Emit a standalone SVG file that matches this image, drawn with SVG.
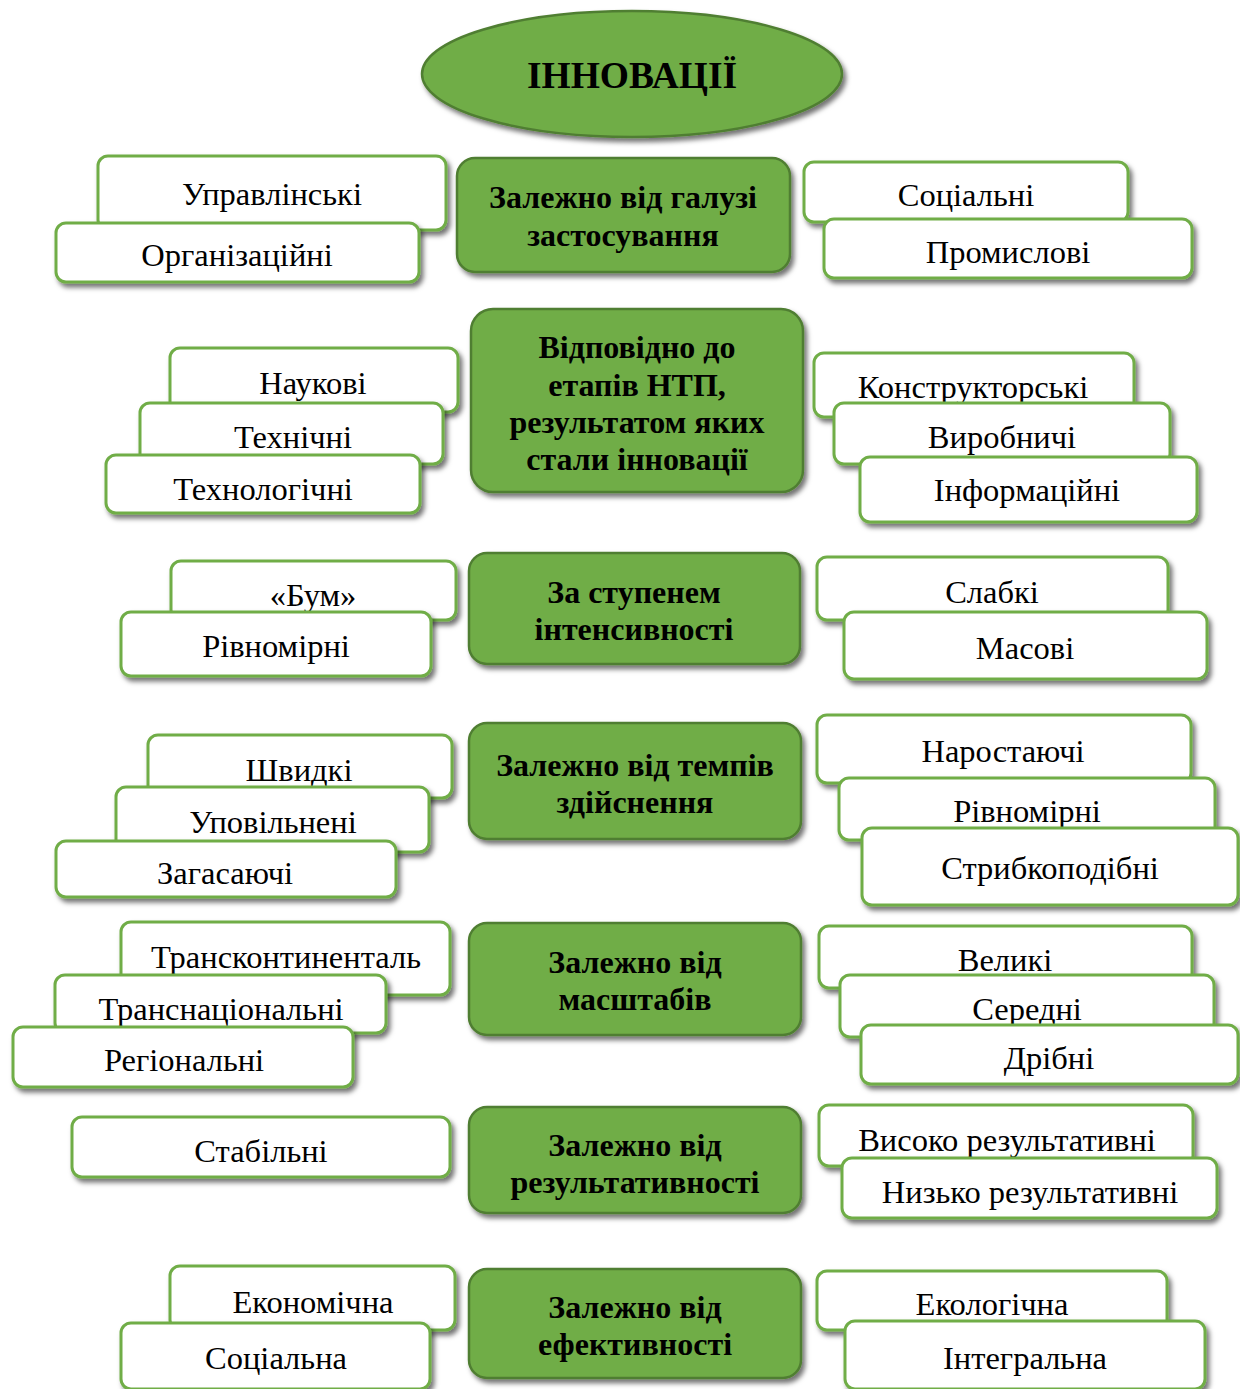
<svg xmlns="http://www.w3.org/2000/svg" width="1240" height="1389" viewBox="0 0 1240 1389">
<defs>
<filter id="sh" x="-10%" y="-20%" width="125%" height="150%">
<feDropShadow dx="3" dy="4" stdDeviation="2.5" flood-color="#000" flood-opacity="0.55"/>
</filter>
<style>
.w{fill:#fff;stroke:#70AD47;stroke-width:3;filter:url(#sh)}
.g{fill:#70AD47;stroke:#507E32;stroke-width:2.5;filter:url(#sh)}
.t{font-family:"Liberation Serif","Times New Roman",serif;font-size:32.5px;fill:#000;text-anchor:middle}
.b{font-family:"Liberation Serif","Times New Roman",serif;font-size:32px;font-weight:bold;fill:#000;text-anchor:middle}
.h{font-family:"Liberation Serif","Times New Roman",serif;font-size:37.5px;font-weight:bold;fill:#000;text-anchor:middle}
</style>
</defs>
<rect width="1240" height="1389" fill="#fff"/>

<g id="root"><ellipse class="g" cx="632" cy="74" rx="210" ry="63"/><text class="h" x="632" y="88">ІННОВАЦІЇ</text></g>

<!-- Row 1 -->
<g id="c1"><rect class="g" x="457" y="158" width="333" height="114" rx="18"/><text class="b" x="623" y="208">Залежно від галузі</text><text class="b" x="623" y="246">застосування</text></g>
<g id="l1a"><rect class="w" x="98" y="156" width="348" height="74" rx="10"/><text class="t" x="272" y="205">Управлінські</text></g>
<g id="l1b"><rect class="w" x="56" y="223" width="363" height="59" rx="10"/><text class="t" x="237" y="266">Організаційні</text></g>
<g id="r1a"><rect class="w" x="804" y="162" width="324" height="60" rx="10"/><text class="t" x="966" y="206">Соціальні</text></g>
<g id="r1b"><rect class="w" x="824" y="219" width="368" height="59" rx="10"/><text class="t" x="1008" y="263">Промислові</text></g>

<!-- Row 2 -->
<g id="c2"><rect class="g" x="471" y="309" width="332" height="183" rx="22"/><text class="b" x="637" y="358">Відповідно до</text><text class="b" x="637" y="396">етапів НТП,</text><text class="b" x="637" y="433">результатом яких</text><text class="b" x="637" y="470">стали інновації</text></g>
<g id="l2a"><rect class="w" x="170" y="348" width="288" height="64" rx="10"/><text class="t" x="313" y="394">Наукові</text></g>
<g id="l2b"><rect class="w" x="140" y="403" width="303" height="61" rx="10"/><text class="t" x="293" y="448">Технічні</text></g>
<g id="l2c"><rect class="w" x="106" y="455" width="314" height="58" rx="10"/><text class="t" x="263" y="500">Технологічні</text></g>
<g id="r2a"><rect class="w" x="814" y="353" width="320" height="64" rx="10"/><text class="t" x="973" y="398">Конструкторські</text></g>
<g id="r2b"><rect class="w" x="834" y="403" width="336" height="61" rx="10"/><text class="t" x="1002" y="448">Виробничі</text></g>
<g id="r2c"><rect class="w" x="860" y="457" width="337" height="65" rx="10"/><text class="t" x="1027" y="501">Інформаційні</text></g>

<!-- Row 3 -->
<g id="c3"><rect class="g" x="469" y="553" width="331" height="111" rx="18"/><text class="b" x="634" y="603">За ступенем</text><text class="b" x="634" y="640">інтенсивності</text></g>
<g id="l3a"><rect class="w" x="171" y="561" width="285" height="59" rx="10"/><text class="t" x="313" y="606">«Бум»</text></g>
<g id="l3b"><rect class="w" x="121" y="612" width="310" height="64" rx="10"/><text class="t" x="276" y="657">Рівномірні</text></g>
<g id="r3a"><rect class="w" x="817" y="557" width="351" height="63" rx="10"/><text class="t" x="992" y="603">Слабкі</text></g>
<g id="r3b"><rect class="w" x="844" y="612" width="363" height="67" rx="10"/><text class="t" x="1025" y="659">Масові</text></g>

<!-- Row 4 -->
<g id="c4"><rect class="g" x="469" y="723" width="332" height="116" rx="18"/><text class="b" x="635" y="776">Залежно від темпів</text><text class="b" x="635" y="813">здійснення</text></g>
<g id="l4a"><rect class="w" x="148" y="735" width="304" height="63" rx="10"/><text class="t" x="299" y="781">Швидкі</text></g>
<g id="l4b"><rect class="w" x="116" y="787" width="313" height="65" rx="10"/><text class="t" x="273" y="833">Уповільнені</text></g>
<g id="l4c"><rect class="w" x="56" y="841" width="340" height="56" rx="10"/><text class="t" x="225" y="884">Загасаючі</text></g>
<g id="r4a"><rect class="w" x="817" y="715" width="374" height="68" rx="10"/><text class="t" x="1003" y="762">Наростаючі</text></g>
<g id="r4b"><rect class="w" x="839" y="778" width="376" height="62" rx="10"/><text class="t" x="1027" y="822">Рівномірні</text></g>
<g id="r4c"><rect class="w" x="862" y="828" width="376" height="77" rx="10"/><text class="t" x="1050" y="879">Стрибкоподібні</text></g>

<!-- Row 5 -->
<g id="c5"><rect class="g" x="469" y="923" width="332" height="112" rx="18"/><text class="b" x="635" y="973">Залежно від</text><text class="b" x="635" y="1010">масштабів</text></g>
<g id="l5a"><rect class="w" x="121" y="922" width="329" height="73" rx="10"/><text class="t" x="286" y="968">Трансконтиненталь</text></g>
<g id="l5b"><rect class="w" x="55" y="975" width="331" height="58" rx="10"/><text class="t" x="221" y="1020">Транснаціональні</text></g>
<g id="l5c"><rect class="w" x="13" y="1027" width="340" height="60" rx="10"/><text class="t" x="184" y="1071">Регіональні</text></g>
<g id="r5a"><rect class="w" x="819" y="926" width="373" height="62" rx="10"/><text class="t" x="1005" y="971">Великі</text></g>
<g id="r5b"><rect class="w" x="840" y="975" width="374" height="62" rx="10"/><text class="t" x="1027" y="1020">Середні</text></g>
<g id="r5c"><rect class="w" x="861" y="1025" width="377" height="59" rx="10"/><text class="t" x="1049" y="1069">Дрібні</text></g>

<!-- Row 6 -->
<g id="c6"><rect class="g" x="469" y="1107" width="332" height="106" rx="18"/><text class="b" x="635" y="1156">Залежно від</text><text class="b" x="635" y="1193">результативності</text></g>
<g id="l6a"><rect class="w" x="72" y="1117" width="378" height="60" rx="10"/><text class="t" x="261" y="1162">Стабільні</text></g>
<g id="r6a"><rect class="w" x="819" y="1105" width="374" height="61" rx="10"/><text class="t" x="1007" y="1151">Високо результативні</text></g>
<g id="r6b"><rect class="w" x="842" y="1158" width="375" height="60" rx="10"/><text class="t" x="1030" y="1203">Низько результативні</text></g>

<!-- Row 7 -->
<g id="c7"><rect class="g" x="469" y="1269" width="332" height="109" rx="18"/><text class="b" x="635" y="1318">Залежно від</text><text class="b" x="635" y="1355">ефективності</text></g>
<g id="l7a"><rect class="w" x="170" y="1266" width="285" height="64" rx="10"/><text class="t" x="313" y="1313">Економічна</text></g>
<g id="l7b"><rect class="w" x="121" y="1323" width="309" height="66" rx="10"/><text class="t" x="276" y="1369">Соціальна</text></g>
<g id="r7a"><rect class="w" x="817" y="1271" width="350" height="59" rx="10"/><text class="t" x="992" y="1315">Екологічна</text></g>
<g id="r7b"><rect class="w" x="845" y="1321" width="360" height="68" rx="10"/><text class="t" x="1025" y="1369">Інтегральна</text></g>

<g id="connectors"/>
</svg>
